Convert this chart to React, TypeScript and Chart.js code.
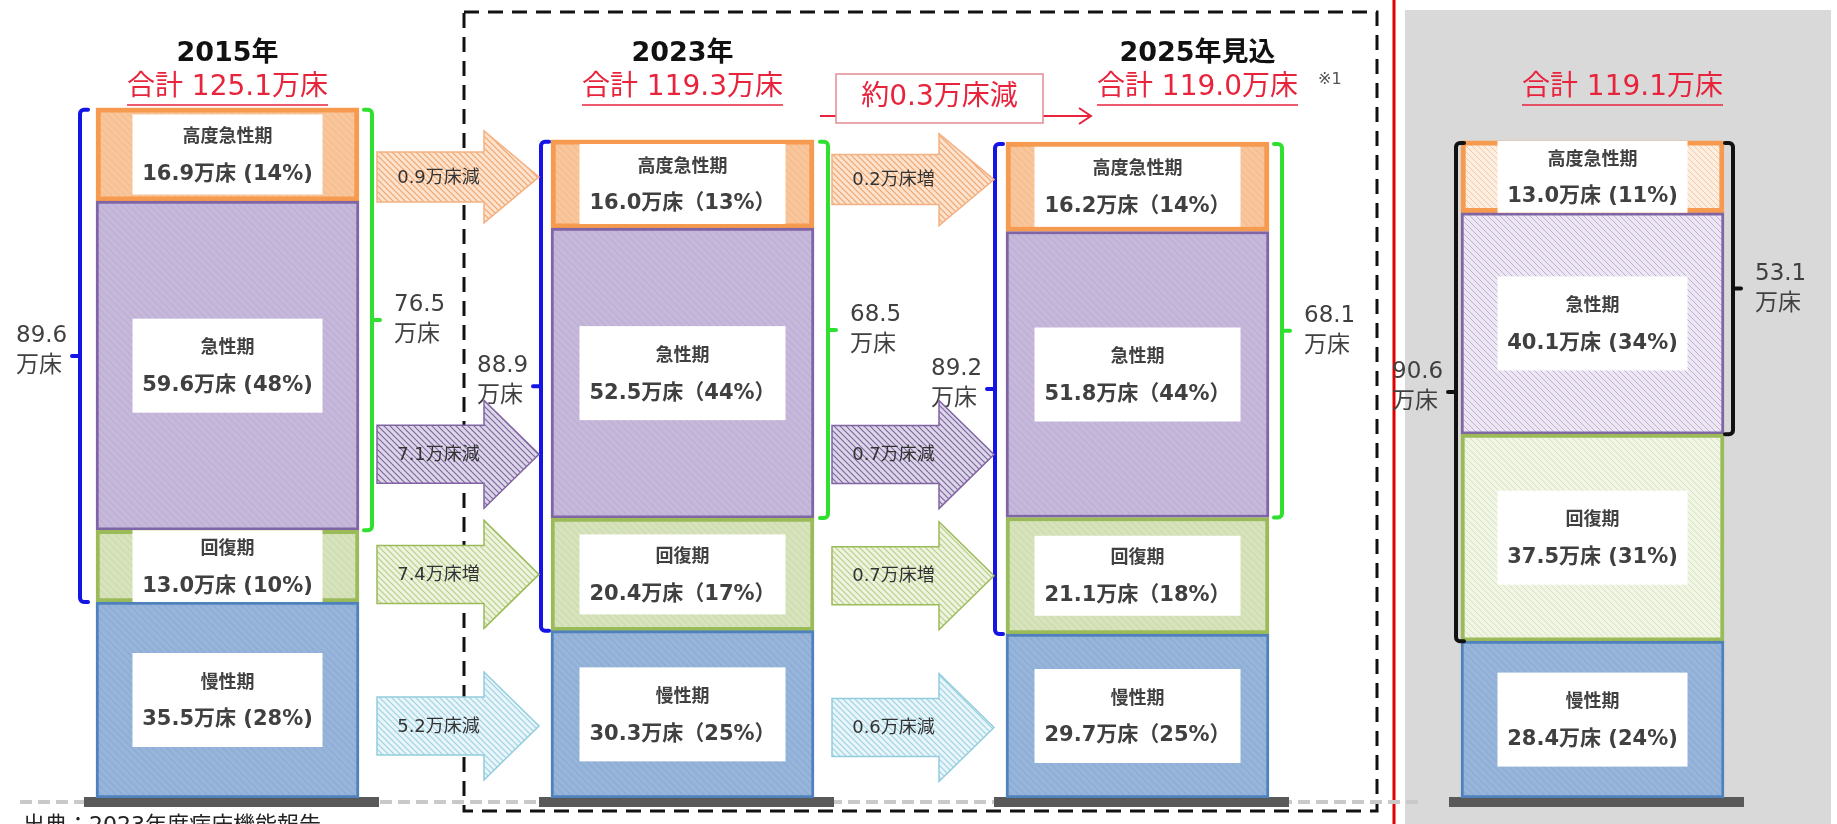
import React, { useEffect, useRef } from 'react';
import { Chart, registerables } from 'chart.js';

Chart.register(...registerables);

// ---------- data ----------
const years = ['2015年', '2023年', '2025年見込', ''];
const totalLabels = ['合計 125.1万床', '合計 119.3万床', '合計 119.0万床', '合計 119.1万床'];
const phaseNames = ['高度急性期', '急性期', '回復期', '慢性期'];
const highAcute = [16.9, 16.0, 16.2, 13.0];
const acute = [59.6, 52.5, 51.8, 40.1];
const recovery = [13.0, 20.4, 21.1, 37.5];
const chronic = [35.5, 30.3, 29.7, 28.4];
const highAcutePct = [14, 13, 14, 11];
const acutePct = [48, 44, 44, 34];
const recoveryPct = [10, 17, 18, 31];
const chronicPct = [28, 25, 25, 24];
const leftBracketTotals = [89.6, 88.9, 89.2, 90.6];
const rightBracketTotals = [76.5, 68.5, 68.1, 53.1];
// order: 高度急性期, 急性期, 回復期, 慢性期
const change2015to2023 = ['0.9万床減', '7.1万床減', '7.4万床増', '5.2万床減'];
const change2023to2025 = ['0.2万床増', '0.7万床減', '0.7万床増', '0.6万床減'];
const totalChangeNote = '約0.3万床減';
const footnoteMark = '※1';
const sourceNote = '出典：2023年度病床機能報告';

// ---------- style ----------
const FONT = '"DejaVu Sans", "Noto Sans CJK JP", sans-serif';
const RED = '#e8233c';
const TEXT = '#404040';
const fullWidthParen = [false, true, true, false];
const boxWidths = [190, 206, 206, 190];
const titleOffsets = [0, 0, 60, 30];
const leftBracketGap = [16, 10, 11, 5];
const rightBracketGap = [13, 14, 13, 9];
const leftBracketColors = ['#1414e6', '#1414e6', '#1414e6', '#111111'];
const rightBracketColors = ['#2fe02f', '#2fe02f', '#2fe02f', '#111111'];
const arrowFrac = [0.42, 0.78, 0.5, 0.57];

function hatch(base: string, line: string, size = 7, width = 1.2) {
  const c = document.createElement('canvas');
  c.width = size;
  c.height = size;
  const g = c.getContext('2d')!;
  g.fillStyle = base;
  g.fillRect(0, 0, size, size);
  g.strokeStyle = line;
  g.lineWidth = width;
  g.beginPath();
  g.moveTo(0, 0);
  g.lineTo(size, size);
  g.moveTo(-size / 2, size / 2);
  g.lineTo(size / 2, size * 1.5);
  g.moveTo(size / 2, -size / 2);
  g.lineTo(size * 1.5, size / 2);
  g.stroke();
  return g.createPattern(c, 'repeat')!;
}

function fmtValue(v: number, p: number, fw: boolean) {
  return `${v.toFixed(1)}万床${fw ? '（' : ' ('}${p}%${fw ? '）' : ')'}`;
}

function roundBracket(ctx: CanvasRenderingContext2D, x: number, yTop: number, yBot: number, dir: number, color: string) {
  const foot = 8;
  const r = 4;
  ctx.save();
  ctx.strokeStyle = color;
  ctx.lineWidth = 4;
  ctx.lineCap = 'round';
  ctx.lineJoin = 'round';
  ctx.beginPath();
  ctx.moveTo(x + dir * foot, yTop);
  ctx.arcTo(x, yTop, x, yTop + r, r);
  ctx.arcTo(x, yBot, x + dir * foot, yBot, r);
  ctx.lineTo(x + dir * foot, yBot);
  const mid = (yTop + yBot) / 2;
  ctx.moveTo(x, mid);
  ctx.lineTo(x - dir * 8, mid);
  ctx.stroke();
  ctx.restore();
}

function blockArrow(ctx: CanvasRenderingContext2D, x0: number, x1: number, yc: number, bodyH: number, headH: number, headL: number, fill: CanvasPattern | string, stroke: string, text: string) {
  ctx.save();
  ctx.beginPath();
  ctx.moveTo(x0, yc - bodyH / 2);
  ctx.lineTo(x1 - headL, yc - bodyH / 2);
  ctx.lineTo(x1 - headL, yc - headH / 2);
  ctx.lineTo(x1, yc);
  ctx.lineTo(x1 - headL, yc + headH / 2);
  ctx.lineTo(x1 - headL, yc + bodyH / 2);
  ctx.lineTo(x0, yc + bodyH / 2);
  ctx.closePath();
  ctx.fillStyle = fill;
  ctx.fill();
  ctx.strokeStyle = stroke;
  ctx.lineWidth = 1.5;
  ctx.stroke();
  ctx.fillStyle = '#333333';
  ctx.font = `18px ${FONT}`;
  ctx.textAlign = 'center';
  ctx.textBaseline = 'middle';
  ctx.fillText(text, (x0 + x1 - headL) / 2 + 8, yc + 1);
  ctx.restore();
}

export default function App() {
  const ref = useRef<HTMLCanvasElement>(null);

  useEffect(() => {
    const canvas = ref.current!;

    const leftFills = {
      high: hatch('#f9c69c', '#f4bb8e'),
      acute: hatch('#c6b8da', '#bcadd3'),
      rec: hatch('#d6e3bb', '#cddab0'),
      chr: hatch('#97b5da', '#8cabd3'),
    };
    const rightFills = {
      high: hatch('#fdeee2', '#f6c7a2', 6, 1),
      acute: hatch('#ece7f2', '#bfb0d4', 6, 1),
      rec: hatch('#f1f5e6', '#d6e3b8', 6, 1),
      chr: hatch('#97b5da', '#8cabd3'),
    };
    const arrowFills = [
      hatch('#fde3cd', '#eea56f', 6, 1.2),
      hatch('#ddd5e8', '#7d68a0', 6, 1.2),
      hatch('#eef3e0', '#b9cf88', 6, 1.2),
      hatch('#e8f5fa', '#9fd2e0', 6, 1.2),
    ];
    const arrowStrokes = ['#f4b183', '#8064a2', '#9bbb59', '#93cddd'];

    const bgPlugin = {
      id: 'bgDecor',
      beforeDatasetsDraw(chart: any) {
        const ctx: CanvasRenderingContext2D = chart.ctx;
        ctx.save();
        // grey panel for the right column
        ctx.fillStyle = '#d9d9d9';
        ctx.fillRect(1405, 10, 426, 814);
        // red separator
        ctx.strokeStyle = '#e00000';
        ctx.lineWidth = 3;
        ctx.beginPath();
        ctx.moveTo(1394, 0);
        ctx.lineTo(1394, 824);
        ctx.stroke();
        // dashed frame around 2023 - 2025
        ctx.strokeStyle = '#111';
        ctx.lineWidth = 3;
        ctx.setLineDash([15, 9]);
        ctx.strokeRect(464, 12, 913, 799);
        // grey dashed base line
        ctx.strokeStyle = '#c9c9c9';
        ctx.lineWidth = 4;
        ctx.setLineDash([12, 6]);
        ctx.beginPath();
        ctx.moveTo(20, 802);
        ctx.lineTo(1420, 802);
        ctx.stroke();
        ctx.setLineDash([]);
        // dark bases under each bar
        const meta = chart.getDatasetMeta(0);
        ctx.fillStyle = '#595959';
        meta.data.forEach((el: any) => {
          const p = el.getProps(['x', 'width', 'base'], true);
          ctx.fillRect(p.x - p.width / 2 - 12, p.base - 1, p.width + 32, 10);
        });
        ctx.restore();
      },
    };

    const overlayPlugin = {
      id: 'overlay',
      afterDatasetsDraw(chart: any) {
        const ctx: CanvasRenderingContext2D = chart.ctx;
        const metas = [0, 1, 2, 3].map((d) => chart.getDatasetMeta(d));
        const values = [highAcute, acute, recovery, chronic];
        const pcts = [highAcutePct, acutePct, recoveryPct, chronicPct];
        const cols = years.map((_, i) => {
          // segments ordered: high, acute, recovery, chronic
          const segs = [3, 2, 1, 0].map((d) => metas[d].data[i].getProps(['x', 'y', 'base', 'width'], true));
          const w = segs[0].width;
          return { segs, cx: segs[0].x, left: segs[0].x - w / 2, right: segs[0].x + w / 2 };
        });

        ctx.save();
        // label boxes
        cols.forEach((col, i) => {
          col.segs.forEach((s: any, k: number) => {
            const top = s.y;
            const bot = s.base;
            const h = bot - top;
            const bh = h > 150 ? 94 : Math.min(80, h);
            const bw = boxWidths[i];
            const cy = (top + bot) / 2;
            ctx.fillStyle = '#ffffff';
            ctx.fillRect(col.cx - bw / 2, cy - bh / 2, bw, bh);
            ctx.fillStyle = TEXT;
            ctx.textAlign = 'center';
            ctx.textBaseline = 'middle';
            ctx.font = `bold 18px ${FONT}`;
            ctx.fillText(phaseNames[k], col.cx, cy - 17);
            ctx.font = `bold 21px ${FONT}`;
            ctx.fillText(fmtValue(values[k][i], pcts[k][i], fullWidthParen[i]), col.cx, cy + 20);
          });
        });

        // brackets
        cols.forEach((col, i) => {
          const top = col.segs[0].y + 2;
          const lBot = col.segs[3].y;
          const rBot = col.segs[2].y;
          const lx = col.left - leftBracketGap[i];
          const rx = col.right + rightBracketGap[i];
          roundBracket(ctx, lx, top, lBot, 1, leftBracketColors[i]);
          roundBracket(ctx, rx, top, rBot, -1, rightBracketColors[i]);
          ctx.fillStyle = TEXT;
          ctx.font = `23px ${FONT}`;
          ctx.textBaseline = 'middle';
          ctx.textAlign = 'left';
          const lm = (top + lBot) / 2;
          ctx.fillText(leftBracketTotals[i].toFixed(1), lx - 64, lm - 20);
          ctx.fillText('万床', lx - 64, lm + 10);
          const rm = (top + rBot) / 2;
          ctx.fillText(rightBracketTotals[i].toFixed(1), rx + 22, rm - 15);
          ctx.fillText('万床', rx + 22, rm + 15);
        });

        // block arrows between columns
        const changes = [change2015to2023, change2023to2025];
        [0, 1].forEach((g) => {
          const x0 = cols[g].right + 18;
          const x1 = cols[g + 1].left - 12;
          for (let k = 0; k < 4; k++) {
            const s = cols[g + 1].segs[k];
            const yc = s.y + arrowFrac[k] * (s.base - s.y);
            const bodyH = k === 0 ? 50 : 58;
            const headH = k === 0 ? 92 : 108;
            blockArrow(ctx, x0, x1, yc, bodyH, headH, 55, arrowFills[k], arrowStrokes[k], changes[g][k]);
          }
        });

        // titles
        cols.forEach((col, i) => {
          const tx = col.cx + titleOffsets[i];
          if (years[i]) {
            ctx.fillStyle = '#111111';
            ctx.font = `bold 27px ${FONT}`;
            ctx.textAlign = 'center';
            ctx.textBaseline = 'middle';
            ctx.fillText(years[i], tx, 54);
          }
          ctx.fillStyle = RED;
          ctx.font = `28px ${FONT}`;
          ctx.textAlign = 'center';
          ctx.textBaseline = 'middle';
          ctx.fillText(totalLabels[i], tx, 88);
          const tw = ctx.measureText(totalLabels[i]).width;
          ctx.strokeStyle = RED;
          ctx.lineWidth = 1.5;
          ctx.beginPath();
          ctx.moveTo(tx - tw / 2, 105);
          ctx.lineTo(tx + tw / 2, 105);
          ctx.stroke();
          if (i === 2) {
            ctx.fillStyle = '#555';
            ctx.font = `16px ${FONT}`;
            ctx.textAlign = 'left';
            ctx.fillText(footnoteMark, tx + tw / 2 + 20, 80);
          }
        });

        // total change note between 2023 and 2025
        const bx = cols[1].right + 22;
        const bw = 207;
        const ly = 116;
        ctx.strokeStyle = RED;
        ctx.lineWidth = 2;
        ctx.beginPath();
        ctx.moveTo(bx - 16, ly);
        ctx.lineTo(bx + bw + 48, ly);
        ctx.moveTo(bx + bw + 36, ly - 8);
        ctx.lineTo(bx + bw + 48, ly);
        ctx.lineTo(bx + bw + 36, ly + 8);
        ctx.stroke();
        ctx.fillStyle = '#ffffff';
        ctx.fillRect(bx, 74, bw, 49);
        ctx.strokeStyle = '#e58a96';
        ctx.lineWidth = 1.5;
        ctx.strokeRect(bx, 74, bw, 49);
        ctx.fillStyle = RED;
        ctx.font = `28px ${FONT}`;
        ctx.textAlign = 'center';
        ctx.textBaseline = 'middle';
        ctx.fillText(totalChangeNote, bx + bw / 2, 98);

        // source (cut by the bottom edge)
        ctx.fillStyle = '#222';
        ctx.font = `22px ${FONT}`;
        ctx.textAlign = 'left';
        ctx.textBaseline = 'top';
        ctx.fillText(sourceNote, 23, 815);
        ctx.restore();
      },
    };

    const chart = new Chart(canvas, {
      type: 'bar',
      data: {
        labels: years,
        datasets: [
          {
            label: '慢性期',
            data: chronic,
            backgroundColor: [leftFills.chr, leftFills.chr, leftFills.chr, rightFills.chr],
            borderColor: '#4f81bd',
            borderWidth: 3,
            borderSkipped: false,
            barThickness: 263,
          },
          {
            label: '回復期',
            data: recovery,
            backgroundColor: [leftFills.rec, leftFills.rec, leftFills.rec, rightFills.rec],
            borderColor: '#9bbb59',
            borderWidth: 4,
            borderSkipped: false,
            barThickness: 263,
          },
          {
            label: '急性期',
            data: acute,
            backgroundColor: [leftFills.acute, leftFills.acute, leftFills.acute, rightFills.acute],
            borderColor: '#7f64a6',
            borderWidth: 3,
            borderSkipped: false,
            barThickness: 263,
          },
          {
            label: '高度急性期',
            data: highAcute,
            backgroundColor: [leftFills.high, leftFills.high, leftFills.high, rightFills.high],
            borderColor: '#f59a4e',
            borderWidth: 5,
            borderSkipped: false,
            barThickness: 263,
          },
        ],
      },
      options: {
        animation: false,
        responsive: false,
        devicePixelRatio: 1,
        layout: { padding: { left: 0, right: 17, top: 25, bottom: 26 } },
        plugins: { legend: { display: false }, tooltip: { enabled: false } },
        scales: {
          x: { display: false, stacked: true },
          y: { display: false, stacked: true, min: 0, max: 140 },
        },
      },
      plugins: [bgPlugin, overlayPlugin],
    } as any);

    return () => chart.destroy();
  }, []);

  return (
    <div style={{ position: 'fixed', left: 0, top: 0, width: 1837, height: 824, background: '#ffffff' }}>
      <canvas ref={ref} width={1837} height={824} style={{ display: 'block', width: 1837, height: 824 }} />
    </div>
  );
}
